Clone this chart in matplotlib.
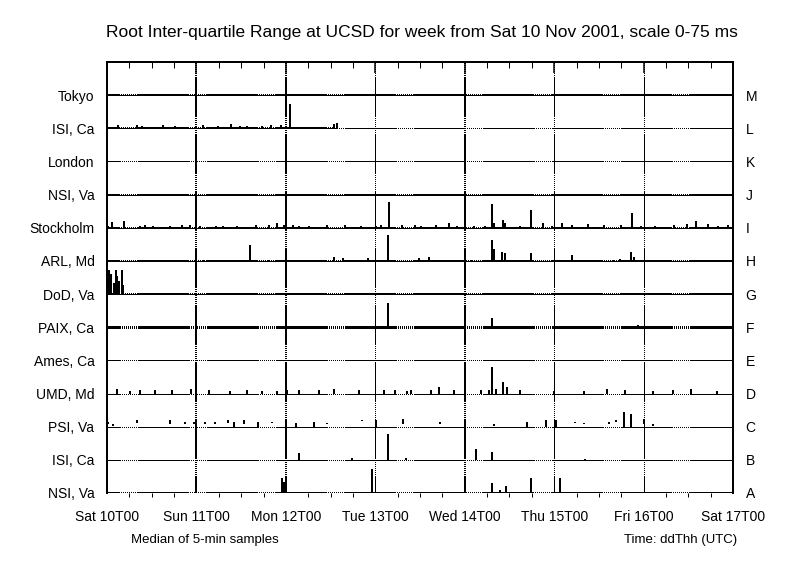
import matplotlib
matplotlib.use('Agg')
import matplotlib.pyplot as plt

plt.rcParams['font.family'] = ['Liberation Sans', 'DejaVu Sans']
plt.rcParams['lines.scale_dashes'] = False

# rows from bottom (A) to top (M)
sites = ['NSI, Va', 'ISI, Ca', 'PSI, Va', 'UMD, Md', 'Ames, Ca', 'PAIX, Ca', 'DoD, Va',
         'ARL, Md', 'Stockholm', 'NSI, Va', 'London', 'ISI, Ca', 'Tokyo']
letters = list('ABCDEFGHIJKLM')
day_hours = [0, 24, 48, 72, 96, 120, 144, 168]
day_labels = ['Sat 10T00', 'Sun 11T00', 'Mon 12T00', 'Tue 13T00', 'Wed 14T00',
              'Thu 15T00', 'Fri 16T00', 'Sat 17T00']
scale_ms = 75.0

# spikes: hour since Sat 10 00:00 UTC, root IQR in ms
a_hours = [47.0, 47.6, 71.2, 103.3, 105.6, 107.0, 113.9, 121.5]
a_ms = [34, 25, 54, 23, 7, 15, 34, 34]

b_hours = [51.6, 65.8, 75.4, 80.3, 99.0, 103.3, 128.4]
b_ms = [15, 4, 59, 4, 25, 18, 2]

# PSI floats off the baseline: low and high edge of each sample
c_hours = [0.3, 1.6, 8.0, 16.9, 20.9, 23.3, 26.2, 28.9, 32.6, 34.2, 36.7, 40.4, 44.4,
           50.6, 55.6, 59.1, 68.5, 72.2, 79.5, 89.4, 96.0, 103.8, 112.6, 117.7, 120.4,
           125.7, 127.9, 134.8, 136.7, 138.8, 140.7, 144.2, 146.6]
c_lo = [5, 2, 9, 5, 7, 7, 7, 7, 9, 0, 5, 0, 9, 0, 0, 7, 14, 0, 5, 5, 7, 2, 0, 0, 0,
        9, 7, 5, 11, 0, 0, 7, 2]
c_hi = [11, 7, 16, 16, 11, 11, 11, 11, 16, 11, 16, 11, 11, 9, 11, 9, 16, 16, 18, 11,
        11, 7, 11, 16, 16, 11, 9, 11, 16, 34, 29, 18, 7]

d_hours = [2.7, 6.2, 8.8, 12.8, 17.4, 22.5, 27.3, 32.9, 37.7, 41.7, 45.5, 48.2, 51.6,
           57.0, 61.0, 67.7, 74.4, 77.3, 80.5, 81.6, 86.9, 89.1, 93.1, 100.3, 102.5,
           103.3, 104.3, 106.2, 107.3, 110.8, 119.9, 128.1, 134.3, 139.1, 146.6, 151.9,
           156.6, 163.8]
d_ms = [11, 5, 7, 7, 9, 11, 7, 5, 9, 5, 5, 9, 7, 9, 11, 7, 7, 9, 5, 9, 9, 14, 7, 9, 9,
        59, 11, 25, 14, 9, 5, 5, 11, 7, 5, 7, 11, 5]

f_hours = [75.4, 103.3, 142.6]
f_ms = [54, 20, 4]

g_hours = [0.5, 1.0, 1.8, 2.4, 2.8, 3.3, 4.0, 4.3]
g_ms = [54, 45, 25, 54, 40, 30, 54, 20]

h_hours = [3.0, 8.6, 14.2, 19.0, 25.7, 35.6, 38.3, 43.1, 49.5, 51.6, 55.1, 61.0, 63.4,
           66.3, 70.1, 75.4, 83.7, 86.4, 88.3, 91.8, 97.6, 103.3, 103.8, 105.9, 106.7,
           113.7, 124.7, 135.9, 137.8, 139.4, 140.7, 141.5]
h_ms = [2, 3, 3, 2, 2, 2, 36, 2, 2, 2, 2, 9, 7, 3, 7, 59, 7, 9, 3, 3, 3, 47, 27, 20, 18,
        18, 14, 3, 5, 3, 20, 9]

i_hours = [0.3, 1.3, 4.5, 8.8, 10.2, 12.3, 16.9, 20.1, 22.2, 24.9, 29.2, 31.0, 35.0,
           39.9, 43.6, 45.5, 47.4, 49.8, 51.6, 54.3, 59.1, 63.9, 68.2, 72.2, 73.6, 75.7,
           79.2, 82.7, 84.3, 88.3, 91.8, 93.9, 98.4, 101.4, 103.3, 103.8, 106.2, 106.7,
           110.8, 113.7, 116.9, 119.3, 122.0, 124.7, 129.2, 133.5, 138.0, 140.8, 143.2,
           147.1, 152.2, 155.6, 158.1, 161.3, 164.0, 166.7]
i_ms = [5, 14, 16, 5, 7, 5, 5, 7, 7, 5, 3, 5, 5, 7, 7, 11, 7, 7, 5, 5, 7, 7, 5, 5, 7, 59,
        7, 7, 5, 7, 11, 5, 5, 5, 54, 11, 18, 11, 5, 41, 11, 5, 11, 7, 9, 7, 7, 34, 5,
        5, 7, 9, 16, 9, 5, 7]

l_hours = [3.0, 8.0, 9.4, 15.0, 18.2, 24.0, 25.7, 29.7, 33.4, 35.6, 37.5, 41.7, 44.1,
           46.8, 49.2, 57.8, 61.0, 61.8]
l_ms = [7, 7, 5, 7, 5, 5, 7, 5, 9, 5, 5, 5, 7, 7, 54, 3, 9, 11]

spikes = {0: (a_hours, a_ms), 1: (b_hours, b_ms), 3: (d_hours, d_ms),
          5: (f_hours, f_ms), 6: (g_hours, g_ms), 7: (h_hours, h_ms),
          8: (i_hours, i_ms), 11: (l_hours, l_ms)}

# baseline weight in pixels and the span (hours) where samples exist
row_px = [2, 1, 1, 1, 1, 3, 2, 2, 2, 2, 1, 2, 2]
row_span = [(0, 168)] * 11 + [(0, 62), (0, 168)]

px = 0.72  # points per pixel at 100 dpi
h_dash = (38.5 * px, [51.5 * px, 2 * px] + [1 * px, 2 * px] * 8)
v_dash = (42 * px, [40 * px, 2 * px] + [1 * px, 2 * px] * 8)
day_px = [2, 2, 1, 2, 1, 1]

fig = plt.figure(figsize=(8, 5.74), dpi=100)
ax = fig.add_axes([107 / 800, 81 / 574, 626 / 800, 431 / 574])
ax.set_xlim(0, 168)
ax.set_ylim(0, 13)

# row lines
for i in range(13):
    ax.plot([0, 168], [i, i], color='black', lw=1 * px, linestyle=h_dash, antialiased=False)
    if row_px[i] > 1:
        s0, s1 = row_span[i]
        ax.plot([s0, s1], [i, i], color='black', lw=row_px[i] * px, linestyle=h_dash,
                antialiased=False)

# day lines
for h, w in zip(day_hours[1:-1], day_px):
    ax.plot([h, h], [13, 0], color='black', lw=w * px, linestyle=v_dash, antialiased=False)

# samples
for row, (hrs, vals) in spikes.items():
    ax.vlines(hrs, row, [row + v / scale_ms for v in vals], color='black',
              lw=2 * px, antialiased=False)
ax.vlines(c_hours, [2 + v / scale_ms for v in c_lo], [2 + v / scale_ms for v in c_hi],
          color='black', lw=2 * px, antialiased=False)

for side in ['left', 'right', 'top']:
    ax.spines[side].set_linewidth(2 * px)
ax.spines['bottom'].set_visible(False)

ax.set_xticks(day_hours)
ax.set_xticklabels(day_labels)
ax.set_xticks(range(0, 169, 6), minor=True)
ax.tick_params(axis='x', which='major', length=0, pad=12, labelsize=10)
ax.tick_params(axis='x', which='minor', length=3, width=1 * px, direction='out')

top = ax.secondary_xaxis('top')
top.set_xticks(day_hours, labels=[])
top.set_xticks(range(0, 169, 6), minor=True)
top.tick_params(which='major', direction='in', length=8, width=1.5 * px)
top.tick_params(which='minor', direction='in', length=4, width=1 * px)
top.spines['top'].set_linewidth(2 * px)

ax.set_yticks(range(13))
ax.set_yticklabels(sites)
ax.tick_params(axis='y', length=0, pad=9, labelsize=10)

right = ax.secondary_yaxis('right')
right.set_yticks(range(13), labels=letters)
right.tick_params(length=0, pad=9, labelsize=10)
right.spines['right'].set_linewidth(2 * px)

fig.text(0.528, 1 - 32 / 574,
         'Root Inter-quartile Range at UCSD for week from Sat 10 Nov 2001, scale 0-75 ms',
         ha='center', va='center', fontsize=12.5)
fig.text(205 / 800, 1 - 540 / 574, 'Median of 5-min samples', ha='center', va='center',
         fontsize=9.5)
fig.text(737 / 800, 1 - 540 / 574, 'Time: ddThh (UTC)', ha='right', va='center',
         fontsize=9.5)

fig.savefig('out.png', dpi=100)
